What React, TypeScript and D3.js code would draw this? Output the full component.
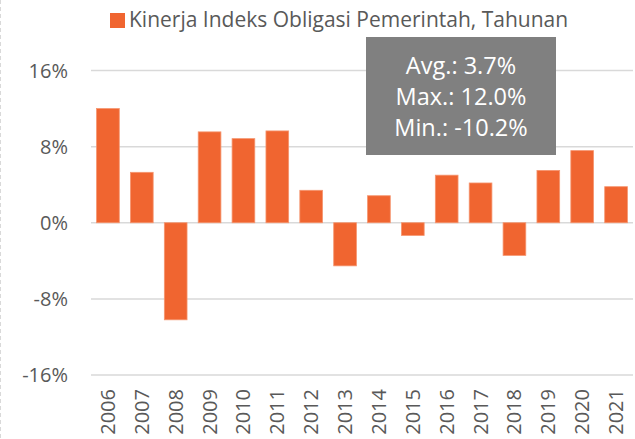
import React from "react";
import * as d3 from "d3";

const years = ["2006","2007","2008","2009","2010","2011","2012","2013","2014","2015","2016","2017","2018","2019","2020","2021"];
const returns = [12.0, 5.3, -10.2, 9.55, 8.84, 9.65, 3.41, -4.53, 2.84, -1.33, 5.0, 4.18, -3.43, 5.5, 7.58, 3.79];
const yTicks = [-16, -8, 0, 8, 16];
const legendLabel = "Kinerja Indeks Obligasi Pemerintah, Tahunan";
const statLines = ["Avg.: 3.7%", "Max.: 12.0%", "Min.: -10.2%"];

const W = 635, H = 439;
const FONT = "'Open Sans', sans-serif";
const BAR = "#F06530";
const TEXT = "#595959";

export default function App() {
  const x = d3.scaleBand<string>().domain(years).range([91, 633]).paddingInner(0.33).paddingOuter(0.165);
  const y = d3.scaleLinear().domain([-16, 16]).range([375, 70.5]);
  return (
    <svg width={W} height={H} style={{ position: "absolute", left: 0, top: 0, background: "#fff" }} fontFamily={FONT}>
      <line x1={0.5} x2={0.5} y1={0} y2={H} stroke="#d9d9d9" strokeDasharray="4,3" />
      {yTicks.map(t => (
        <g key={t}>
          <line x1={91} x2={633} y1={y(t)} y2={y(t)} stroke="#d9d9d9" strokeWidth={1.5} />
          <text x={68} y={y(t)} dy="0.35em" textAnchor="end" fontSize={20} fill={TEXT}>{t}%</text>
        </g>
      ))}
      {returns.map((v, i) => (
        <rect key={years[i]} x={x(years[i])} width={x.bandwidth()} y={y(Math.max(0, v))}
          height={Math.abs(y(v) - y(0))} fill={BAR} stroke="#F5956F" strokeWidth={0.8} />
      ))}
      {years.map(yr => (
        <text key={yr} transform={`translate(${(x(yr) as number) + x.bandwidth() / 2},${389}) rotate(-90)`}
          textAnchor="end" dy="0.35em" fontSize={20} fill={TEXT}>{yr}</text>
      ))}
      <rect x={110} y={13} width={15} height={15} fill={BAR} />
      <text x={129} y={27} fontSize={21} fill={TEXT}>{legendLabel}</text>
      <rect x={366} y={37} width={190} height={118} fill="#808080" />
      {statLines.map((s, i) => (
        <text key={s} x={461} y={66 + i * 31} dy="0.35em" textAnchor="middle" fontSize={23.5} fill="#ffffff">{s}</text>
      ))}
    </svg>
  );
}
